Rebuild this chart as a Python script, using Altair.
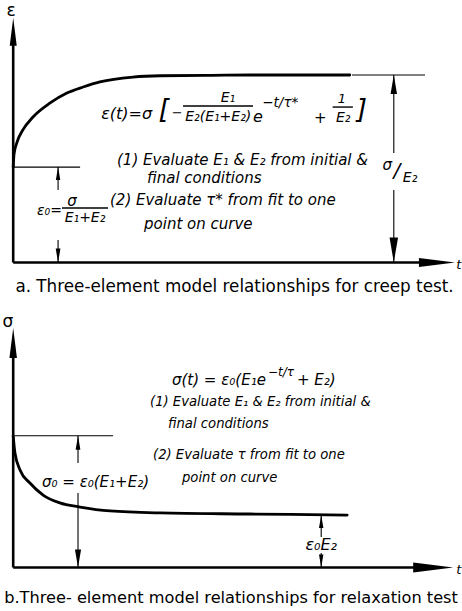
import altair as alt
import pandas as pd

# ---------------------------------------------------------------------------
# Data (time in arbitrary units; strain scaled so eps_inf = 1, stress so sigma_0 = 1)
# ---------------------------------------------------------------------------
creep_t = [0.0, 0.02, 0.08, 0.22, 0.45, 0.84, 1.22, 1.59, 1.97, 2.72, 3.34, 4.5, 5.4, 6.5, 7.65]
creep_eps = [0.51, 0.58, 0.637, 0.707, 0.776, 0.851, 0.904, 0.936, 0.963, 0.989, 0.996, 0.998, 1.0, 1.0, 1.0]

relax_t = [0.0, 0.04, 0.155, 0.38, 0.68, 1.06, 1.52, 2.2, 3.34, 5.38, 7.59]
relax_sig = [1.0, 0.869, 0.74, 0.641, 0.55, 0.49, 0.459, 0.429, 0.414, 0.406, 0.398]

EPS_0 = 0.509      # instantaneous strain
EPS_INF = 1.0      # final strain, sigma/E2
SIG_0 = 1.0        # initial stress
SIG_INF = 0.398    # final stress, eps0*E2

caption_a = "a. Three-element model relationships for creep test."
caption_b = "b.Three- element model relationships for relaxation test"

notes_a = [
    "(1) Evaluate E\u2081 & E\u2082 from initial &",
    "final conditions",
    "(2) Evaluate \u03c4* from fit to one",
    "point on curve",
]
notes_b = [
    "(1) Evaluate E\u2081 & E\u2082 from initial &",
    "final conditions",
    "(2) Evaluate \u03c4 from fit to one",
    "point on curve",
]

# ---------------------------------------------------------------------------
# Layout / style
# ---------------------------------------------------------------------------
W = 462
H_A = 300
H_B = 311
T_DOMAIN = [-0.3, 10.2]
EPS_DOMAIN = [-0.2, 1.4]
SIG_DOMAIN = [-0.33, 2.03]
FONT = "DejaVu Sans"
AXIS_HEAD = "M0,0L0.25,2L-0.25,2Z"
DIM_HEAD = "M0,0L0.34,2L-0.34,2Z"
AXIS_W = 2.6
DIM_W = 1.1
REF_W = 1.2
BAR_W = 1.4


def segs(rows):
    return pd.DataFrame(rows, columns=["t1", "v1", "t2", "v2", "w"])


def heads(rows):
    df = pd.DataFrame(rows, columns=["t", "v", "rot", "length"])
    df["area"] = df["length"] ** 2
    return df


def texts(rows):
    return pd.DataFrame(rows, columns=["txt", "t", "v", "fs", "italic", "align"])


def build_panel(curve_t, curve_v, seg_df, axis_heads, dim_heads, text_df, y_domain, height):
    xs = alt.Scale(domain=T_DOMAIN, nice=False, zero=False)
    ys = alt.Scale(domain=y_domain, nice=False, zero=False)

    def X(f):
        return alt.X(f"{f}:Q", scale=xs, axis=None)

    def Y(f):
        return alt.Y(f"{f}:Q", scale=ys, axis=None)

    layers = []
    layers.append(
        alt.Chart(seg_df).mark_rule(color="black", strokeCap="butt").encode(
            x=X("t1"), x2="t2:Q", y=Y("v1"), y2="v2:Q",
            strokeWidth=alt.StrokeWidth("w:Q", scale=None, legend=None),
        )
    )
    curve = pd.DataFrame({"t": curve_t, "v": curve_v})
    layers.append(
        alt.Chart(curve).mark_line(
            color="black", strokeWidth=2.8, interpolate="monotone", strokeCap="round"
        ).encode(x=X("t"), y=Y("v"))
    )
    for df, path in ((axis_heads, AXIS_HEAD), (dim_heads, DIM_HEAD)):
        layers.append(
            alt.Chart(df).mark_point(
                shape=path, filled=True, color="black", opacity=1, strokeWidth=0
            ).encode(
                x=X("t"), y=Y("v"),
                angle=alt.Angle("rot:Q", scale=None),
                size=alt.Size("area:Q", scale=None, legend=None),
            )
        )
    for (italic, align), grp in text_df.groupby(["italic", "align"]):
        mark_kw = dict(font=FONT, align=align, baseline="middle", color="black")
        if italic:
            mark_kw["fontStyle"] = "italic"
        layers.append(
            alt.Chart(grp.reset_index(drop=True)).mark_text(**mark_kw).encode(
                x=X("t"), y=Y("v"), text="txt:N",
                size=alt.Size("fs:Q", scale=None, legend=None),
            )
        )
    return alt.layer(*layers).properties(width=W, height=height)


# ---------------------------------------------------------------------------
# Panel a: creep test
# ---------------------------------------------------------------------------
seg_a = segs([
    (0, 0, 0, 1.2, AXIS_W),
    (0, 0, 9.6, 0, AXIS_W),
    (0, EPS_0, 1.52, EPS_0, REF_W),
    (7.7, EPS_INF, 9.36, EPS_INF, REF_W),
    (1.02, EPS_0, 1.02, 0.387, DIM_W),
    (1.02, 0.12, 1.02, 0, DIM_W),
    (8.65, EPS_INF, 8.65, 0.584, DIM_W),
    (8.65, 0.387, 8.65, 0, DIM_W),
    (3.86, 0.835, 5.45, 0.835, BAR_W),
    (7.26, 0.829, 7.72, 0.829, BAR_W),
    (1.109, 0.291, 2.155, 0.291, BAR_W),
])
axis_heads_a = heads([(0, 1.305, 0, 28), (10.04, 0, 90, 36)])
dim_heads_a = heads([
    (1.02, EPS_0, 0, 13), (1.02, 0, 180, 14),
    (8.65, EPS_INF, 0, 19), (8.65, 0, 180, 25),
])
text_a = texts([
    ("\u03b5", -0.05, 1.341, 17, False, "center"),
    ("t", 10.13, -0.013, 13, True, "center"),
    (caption_a, 5.03, -0.131, 16.8, False, "center"),
    # creep equation
    ("\u03b5(t)=\u03c3", 2.0, 0.792, 16, True, "left"),
    ("[", 3.42, 0.813, 27, True, "center"),
    ("\u2212", 3.73, 0.80, 13, True, "center"),
    ("E\u2081", 4.88, 0.877, 14, True, "center"),
    ("E\u2082(E\u2081+E\u2082)", 4.66, 0.776, 14, True, "center"),
    ("e", 5.56, 0.776, 16, True, "center"),
    ("\u2212t/\u03c4*", 5.66, 0.853, 13.5, True, "left"),
    ("+", 6.98, 0.77, 15, True, "center"),
    ("1", 7.47, 0.872, 13, True, "center"),
    ("E\u2082", 7.5, 0.771, 14, True, "center"),
    ("]", 7.92, 0.813, 27, True, "center"),
    # procedure
    (notes_a[0], 2.359, 0.547, 15, True, "left"),
    (notes_a[1], 3.041, 0.451, 15, True, "left"),
    (notes_a[2], 2.2, 0.333, 15, True, "left"),
    (notes_a[3], 2.973, 0.205, 15, True, "left"),
    # eps0 = sigma / (E1 + E2)
    ("\u03b5\u2080=", 0.541, 0.275, 14, True, "left"),
    ("\u03c3", 1.336, 0.328, 15, True, "center"),
    ("E\u2081+E\u2082", 1.632, 0.237, 14, True, "center"),
    # sigma / E2
    ("\u03c3", 8.5, 0.52, 15, True, "center"),
    ("/", 8.72, 0.486, 20, True, "center"),
    ("E\u2082", 9.02, 0.451, 14, True, "center"),
])

panel_a = build_panel(creep_t, creep_eps, seg_a, axis_heads_a, dim_heads_a,
                      text_a, EPS_DOMAIN, H_A)

# ---------------------------------------------------------------------------
# Panel b: relaxation test
# ---------------------------------------------------------------------------
seg_b = segs([
    (0, 0, 0, 1.7, AXIS_W),
    (0, 0, 9.6, 0, AXIS_W),
    (0.04, SIG_0, 2.27, SIG_0, REF_W),
    (1.473, SIG_0, 1.473, 0.793, DIM_W),
    (1.473, 0.565, 1.473, 0, DIM_W),
    (7.0, SIG_INF, 7.0, 0.232, DIM_W),
    (7.0, 0.110, 7.0, 0, DIM_W),
])
axis_heads_b = heads([(0, 1.817, 0, 30), (10.0, 0, 90, 40)])
dim_heads_b = heads([
    (1.473, SIG_0, 0, 14), (1.473, 0, 180, 18),
    (7.0, SIG_INF, 0, 13), (7.0, 0, 180, 13),
])
text_b = texts([
    ("\u03c3", -0.118, 1.863, 17, False, "center"),
    ("t", 10.13, -0.019, 13, True, "center"),
    (caption_b, 4.95, -0.231, 16.2, False, "center"),
    # relaxation equation
    ("\u03c3(t) = \u03b5\u2080(E\u2081e", 3.609, 1.423, 15, True, "left"),
    ("\u2212t/\u03c4", 5.79, 1.484, 12, True, "left"),
    ("+ E\u2082)", 6.45, 1.423, 15, True, "left"),
    # procedure
    (notes_b[0], 3.109, 1.256, 13.2, True, "left"),
    (notes_b[1], 3.518, 1.089, 13.2, True, "left"),
    (notes_b[2], 3.177, 0.854, 13.2, True, "left"),
    (notes_b[3], 3.836, 0.679, 13.2, True, "left"),
    # dimension labels
    ("\u03c3\u2080 = \u03b5\u2080(E\u2081+E\u2082)", 0.655, 0.649, 15, True, "left"),
    ("\u03b5\u2080E\u2082", 7.0, 0.171, 16, True, "center"),
])

panel_b = build_panel(relax_t, relax_sig, seg_b, axis_heads_b, dim_heads_b,
                      text_b, SIG_DOMAIN, H_B)

chart = (
    alt.vconcat(panel_a, panel_b, spacing=0, bounds="flush")
    .properties(padding=0, background="white")
    .configure_view(strokeWidth=0)
)

chart.save("out.html", embed_options={"renderer": "svg", "actions": False})
